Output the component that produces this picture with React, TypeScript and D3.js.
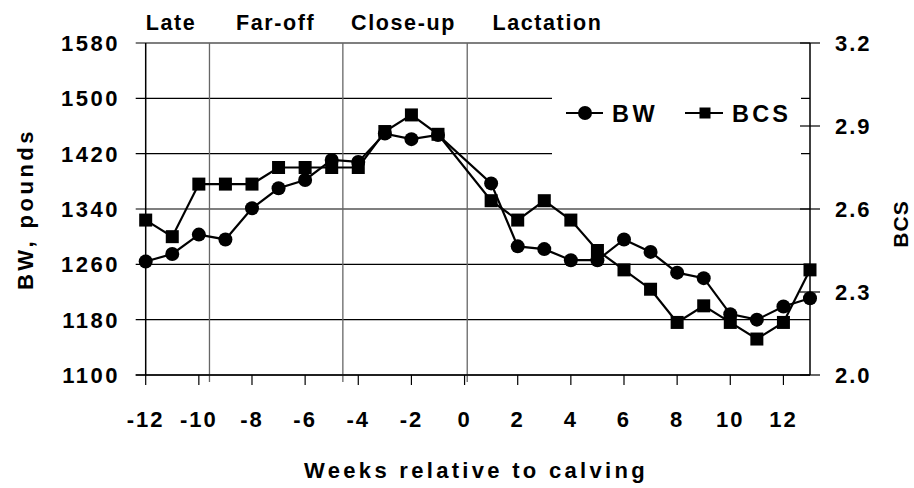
import * as d3 from "d3"

// weeks relative to calving (no point at week 0)
const weeks = [-12, -11, -10, -9, -8, -7, -6, -5, -4, -3, -2, -1, 1, 2, 3, 4, 5, 6, 7, 8, 9, 10, 11, 12, 13]
const bwValues = [1264, 1275, 1303, 1296, 1341, 1370, 1382, 1411, 1408, 1449, 1441, 1447, 1377, 1286, 1282, 1266, 1266, 1296, 1278, 1248, 1240, 1188, 1180, 1199, 1211]
const bcsValues = [2.56, 2.50, 2.69, 2.69, 2.69, 2.75, 2.75, 2.75, 2.75, 2.88, 2.94, 2.87, 2.63, 2.56, 2.63, 2.56, 2.45, 2.38, 2.31, 2.19, 2.25, 2.19, 2.13, 2.19, 2.38]

const xTicks = [-12, -10, -8, -6, -4, -2, 0, 2, 4, 6, 8, 10, 12]
const bwTicks = [1100, 1180, 1260, 1340, 1420, 1500, 1580]
const bcsTicks = [2.0, 2.3, 2.6, 2.9, 3.2]
const periodLabels = ["Late", "Far-off", "Close-up", "Lactation"]
const periodStarts = [-12.0, -8.6, -4.27, 1.05]
const periodBounds = [-9.6, -4.58, 0.1]

const font = "'Liberation Sans', Arial, sans-serif"

export default function App() {
  const width = 914
  const height = 488
  const left = 145.7
  const right = 810
  const top = 43
  const bottom = 375

  const x = d3.scaleLinear().domain([-12, 13]).range([left, right])
  const yBW = d3.scaleLinear().domain([1100, 1580]).range([bottom, top])
  const yBCS = d3.scaleLinear().domain([2.0, 3.2]).range([bottom, top])

  const bwLine = d3.line<number>().x((d, i) => x(weeks[i])).y(d => yBW(d))
  const bcsLine = d3.line<number>().x((d, i) => x(weeks[i])).y(d => yBCS(d))

  const sq = 13
  const r = 7

  return (
    <svg width={width} height={height} style={{ position: "absolute", left: 0, top: 0 }} fontFamily={font} fontWeight="bold">
      <rect x={0} y={0} width={width} height={height} fill="white" />

      {/* grid lines with left ticks */}
      {bwTicks.map(t => (
        <line key={"g" + t} x1={left - 10} x2={right} y1={yBW(t)} y2={yBW(t)} stroke="black" strokeWidth={1.2} />
      ))}

      {/* period separators */}
      {periodBounds.map(w => (
        <line key={"p" + w} x1={x(w)} x2={x(w)} y1={top} y2={bottom + 7} stroke="#666" strokeWidth={1.3} />
      ))}

      {/* legend background */}
      <rect x={552} y={86} width={249} height={96} fill="white" />

      {/* axes */}
      <line x1={left} x2={left} y1={top} y2={bottom} stroke="black" strokeWidth={1.5} />
      <line x1={right} x2={right} y1={top} y2={bottom} stroke="black" strokeWidth={1.5} />
      <line x1={left - 10} x2={right} y1={bottom} y2={bottom} stroke="black" strokeWidth={1.5} />
      {xTicks.map(t => (
        <line key={"xt" + t} x1={x(t)} x2={x(t)} y1={bottom} y2={bottom + 10} stroke="black" strokeWidth={1.2} />
      ))}
      {bcsTicks.map(t => (
        <line key={"rt" + t} x1={right - 10} x2={right + 10} y1={yBCS(t)} y2={yBCS(t)} stroke="black" strokeWidth={1.2} />
      ))}

      {/* tick labels */}
      {xTicks.map(t => (
        <text key={"xl" + t} x={x(t)} y={427} textAnchor="middle" fontSize={22} letterSpacing={2}>{t}</text>
      ))}
      {bwTicks.map(t => (
        <text key={"yl" + t} x={120} y={yBW(t) + 8} textAnchor="end" fontSize={22} letterSpacing={2.5}>{t}</text>
      ))}
      {bcsTicks.map(t => (
        <text key={"rl" + t} x={835} y={yBCS(t) + 8} fontSize={22} letterSpacing={2}>{t.toFixed(1)}</text>
      ))}

      {/* period labels */}
      {periodLabels.map((p, i) => (
        <text key={p} x={x(periodStarts[i])} y={30} fontSize={21.5} letterSpacing={1.6}>{p}</text>
      ))}

      {/* series */}
      <path d={bcsLine(bcsValues) || ""} fill="none" stroke="black" strokeWidth={2.2} />
      <path d={bwLine(bwValues) || ""} fill="none" stroke="black" strokeWidth={2.2} />
      {bcsValues.map((v, i) => (
        <rect key={"s" + i} x={x(weeks[i]) - sq / 2} y={yBCS(v) - sq / 2} width={sq} height={sq} fill="black" />
      ))}
      {bwValues.map((v, i) => (
        <circle key={"c" + i} cx={x(weeks[i])} cy={yBW(v)} r={r} fill="black" />
      ))}

      {/* legend */}
      <line x1={566} x2={603} y1={113} y2={113} stroke="black" strokeWidth={2.2} />
      <circle cx={585} cy={113} r={r} fill="black" />
      <text x={612} y={121.5} fontSize={23.5} letterSpacing={3.5}>BW</text>
      <line x1={685} x2={723} y1={113} y2={113} stroke="black" strokeWidth={2.2} />
      <rect x={705 - 5.5} y={113 - 5.5} width={11} height={11} fill="black" />
      <text x={732} y={121.5} fontSize={23.5} letterSpacing={3.2}>BCS</text>

      {/* axis titles */}
      <text x={476} y={478} textAnchor="middle" fontSize={22} letterSpacing={3.3}>Weeks relative to calving</text>
      <text transform="translate(33,209) rotate(-90)" textAnchor="middle" fontSize={22} letterSpacing={3.5}>BW, pounds</text>
      <text transform="translate(908,224) rotate(-90)" textAnchor="middle" fontSize={21} letterSpacing={1}>BCS</text>
    </svg>
  )
}
